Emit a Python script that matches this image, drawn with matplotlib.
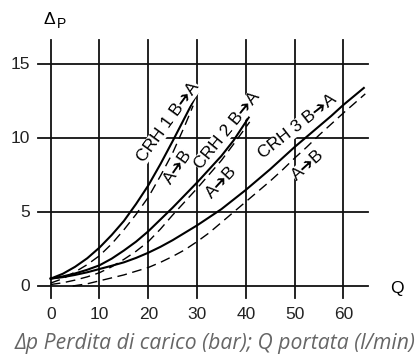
import matplotlib
matplotlib.use("Agg")
import matplotlib.pyplot as plt

# ---- data ----
q_ticks = [0, 10, 20, 30, 40, 50, 60]
dp_ticks = [0, 5, 10, 15]

crh1_ba_q = [0, 2.5, 5, 7.5, 10, 12.5, 15, 17.5, 20, 22.5, 25, 27.5, 30]
crh1_ba_dp = [0.5, 0.83, 1.3, 1.88, 2.6, 3.45, 4.4, 5.55, 6.8, 8.25, 9.8, 11.4, 13.0]
crh1_ab_q = [0, 2.5, 5, 7.5, 10, 12.5, 15, 17.5, 20, 22.5, 25, 27.5, 29.2]
crh1_ab_dp = [0.2, 0.5, 0.95, 1.45, 2.05, 2.85, 3.8, 4.85, 6.0, 7.45, 9.0, 10.85, 12.2]

crh2_ba_q = [0, 2.5, 5, 7.5, 10, 12.5, 15, 17.5, 20, 22.5, 25, 27.5, 30,
             32.5, 35, 37.5, 40.6]
crh2_ba_dp = [0.5, 0.65, 0.85, 1.1, 1.4, 1.85, 2.4, 3.0, 3.7, 4.5, 5.3, 6.15,
              7.0, 7.9, 8.8, 9.85, 11.4]
crh2_ab_q = [0, 2.5, 5, 7.5, 10, 12.5, 15, 17.5, 20, 22.5, 25, 27.5, 30,
             32.5, 35, 37.5, 40.8]
crh2_ab_dp = [0.1, 0.22, 0.4, 0.62, 0.9, 1.3, 1.8, 2.35, 3.0, 3.85, 4.8, 5.7,
              6.6, 7.55, 8.5, 9.6, 11.1]

crh3_ba_q = [0, 2.5, 5, 7.5, 10, 12.5, 15, 17.5, 20, 22.5, 25, 27.5, 30, 32.5,
             35, 37.5, 40, 42.5, 45, 47.5, 50, 52.5, 55, 57.5, 60, 64.2]
crh3_ba_dp = [0.5, 0.6, 0.75, 0.93, 1.15, 1.37, 1.6, 1.9, 2.25, 2.65, 3.1, 3.6,
              4.1, 4.65, 5.2, 5.85, 6.5, 7.2, 7.9, 8.65, 9.4, 10.1, 10.8, 11.5,
              12.25, 13.4]
crh3_ab_q = [4.5, 7.5, 10, 12.5, 15, 17.5, 20, 22.5, 25, 27.5, 30, 32.5, 35,
             37.5, 40, 42.5, 45, 47.5, 50, 52.5, 55, 57.5, 60, 64.5]
crh3_ab_dp = [0.0, 0.15, 0.35, 0.55, 0.75, 1.0, 1.25, 1.6, 2.0, 2.45, 3.0, 3.6,
              4.3, 5.0, 5.7, 6.4, 7.1, 7.85, 8.65, 9.4, 10.2, 10.95, 11.7, 13.0]

labels = [
    ("CRH 1 B\u2794A", 24.05, 11.1, 54),
    ("A\u2794B", 26.1, 8.05, 55),
    ("CRH 2 B\u2794A", 36.15, 10.55, 51),
    ("A\u2794B", 35.06, 7.0, 47),
    ("CRH 3 B\u2794A", 50.6, 10.78, 38),
    ("A\u2794B", 52.76, 8.19, 42),
]

caption = "\u0394p Perdita di carico (bar); Q portata (l/min)"

# ---- figure ----
W, H = 420, 356
fig = plt.figure(figsize=(W / 100, H / 100), dpi=100)
ax = fig.add_axes([0, 0, 1, 1])
ax.set_xlim(-10.40, 75.72)
ax.set_ylim(-4.736, 19.35)
ax.axis("off")

font = ["Liberation Sans", "DejaVu Sans"]
gc = "#111111"

for q in q_ticks:
    ax.plot([q, q], [-0.81, 16.64], color=gc, lw=1.3, zorder=1)
    ax.text(q, -1.96, str(q), ha="center", va="center", fontsize=12.5,
            family=font, color="#222222")
for d in dp_ticks:
    ax.plot([-2.54, 65.0], [d, d], color=gc, lw=1.3, zorder=1)
    ax.text(-4.3, d, str(d), ha="right", va="center", fontsize=12.5,
            family=font, color="#222222")

solid = dict(color="black", lw=1.5, zorder=3)
dashed = dict(color="black", lw=1.0, dashes=(7, 4), zorder=3)
ax.plot(crh1_ba_q, crh1_ba_dp, **solid)
ax.plot(crh1_ab_q, crh1_ab_dp, **dashed)
ax.plot(crh2_ba_q, crh2_ba_dp, **solid)
ax.plot(crh2_ab_q, crh2_ab_dp, **dashed)
ax.plot(crh3_ba_q, crh3_ba_dp, **solid)
ax.plot(crh3_ab_q, crh3_ab_dp, **dashed)

for txt, x, y, rot in labels:
    ax.text(x, y, txt, rotation=rot, rotation_mode="anchor", ha="center",
            va="center", fontsize=12.5, family=font, color="black", zorder=4,
            bbox=dict(facecolor="white", edgecolor="none", pad=0.3))

# axis names
ax.text(-0.3, 18.02, "\u0394", ha="center", va="center", fontsize=12.5,
        family=font, color="black")
ax.text(2.3, 17.75, "P", ha="center", va="center", fontsize=10,
        family=font, color="black")
ax.text(71.0, -0.14, "Q", ha="center", va="center", fontsize=12.5,
        family=font, color="black")

fig.text(215 / W, (H - 343) / H, caption, ha="center", va="center",
         fontsize=15.2, style="italic", family=["Open Sans", "DejaVu Sans"],
         color="#666666")

fig.savefig("out.png", dpi=100)
